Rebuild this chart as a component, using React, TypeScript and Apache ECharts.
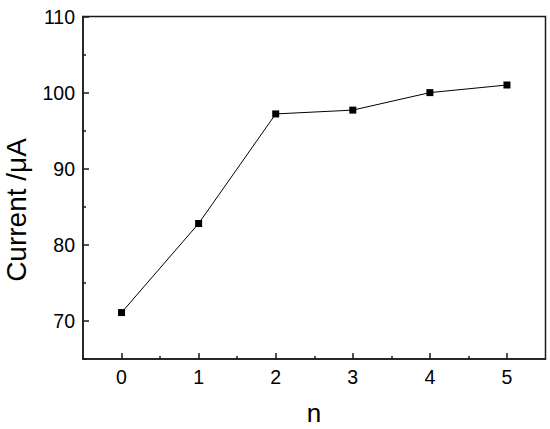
import React, { useEffect, useRef } from "react";
import * as echarts from "echarts";

const nValues = [0, 1, 2, 3, 4, 5];
const currentValues = [71.1, 82.8, 97.2, 97.7, 100.0, 101.0];
const xMajorTicks = [0, 1, 2, 3, 4, 5];
const xMinorTicks = [0.5, 1.5, 2.5, 3.5, 4.5];
const yMajorTicks = [70, 80, 90, 100, 110];
const yMinorTicks = [65, 75, 85, 95, 105];
const xTitle = "n";
const yTitle = "Current /\u03bcA";

const FONT = "'Liberation Sans', Arial, sans-serif";
const AX = "#1a1a1a";

export default function App() {
  const ref = useRef<HTMLDivElement>(null);
  useEffect(() => {
    if (!ref.current) return;
    document.body.style.margin = "0";
    const chart = echarts.init(ref.current, null, { renderer: "svg" });
    const grid = { left: 83, top: 16.5, right: 4.5, bottom: 70 };
    const baseX = {
      type: "value",
      min: -0.5,
      max: 5.5,
      interval: 0.5,
      splitLine: { show: false },
    };
    const baseY = {
      type: "value",
      min: 65,
      max: 110,
      interval: 5,
      splitLine: { show: false },
    };
    chart.setOption({
      animation: false,
      backgroundColor: "#ffffff",
      grid: { ...grid, show: true, borderColor: AX, borderWidth: 1.5, backgroundColor: "transparent" },
      graphic: [
        {
          type: "text",
          x: 16,
          y: 210,
          rotation: Math.PI / 2,
          style: {
            text: yTitle,
            fill: "#000",
            font: `28px ${FONT}`,
            textAlign: "center",
            textVerticalAlign: "middle",
          },
        },
        {
          type: "text",
          x: 314,
          y: 413,
          style: {
            text: xTitle,
            fill: "#000",
            font: `26px ${FONT}`,
            textAlign: "center",
            textVerticalAlign: "middle",
          },
        },
      ],
      xAxis: [
        {
          ...baseX,
          position: "bottom",
          axisLine: { show: true, onZero: false, lineStyle: { color: AX, width: 1.5 } },
          axisTick: { show: true, inside: true, length: 6, customValues: xMajorTicks, lineStyle: { color: AX, width: 1.5 } },
          axisLabel: { show: true, customValues: xMajorTicks, margin: 8, color: "#000", fontFamily: FONT, fontSize: 19.5 },
        },
        {
          ...baseX,
          position: "bottom",
          axisLine: { show: false, onZero: false },
          axisTick: { show: true, inside: true, length: 3, customValues: xMinorTicks, lineStyle: { color: AX, width: 1.5 } },
          axisLabel: { show: false },
        },
      ],
      yAxis: [
        {
          ...baseY,
          position: "left",
          axisLine: { show: true, onZero: false, lineStyle: { color: AX, width: 1.5 } },
          axisTick: { show: true, inside: true, length: 6, customValues: yMajorTicks, lineStyle: { color: AX, width: 1.5 } },
          axisLabel: { show: true, customValues: yMajorTicks, margin: 8, color: "#000", fontFamily: FONT, fontSize: 19.5 },
        },
        {
          ...baseY,
          position: "left",
          axisLine: { show: false, onZero: false },
          axisTick: { show: true, inside: true, length: 3, customValues: yMinorTicks, lineStyle: { color: AX, width: 1.5 } },
          axisLabel: { show: false },
        },
      ],
      series: [
        {
          type: "line",
          xAxisIndex: 0,
          yAxisIndex: 0,
          data: nValues.map((n, i) => [n, currentValues[i]]),
          symbol: "rect",
          symbolSize: 7,
          lineStyle: { color: "#000", width: 1 },
          itemStyle: { color: "#000" },
        },
      ],
    });
    return () => chart.dispose();
  }, []);
  return <div ref={ref} style={{ width: 550, height: 429 }} />;
}
